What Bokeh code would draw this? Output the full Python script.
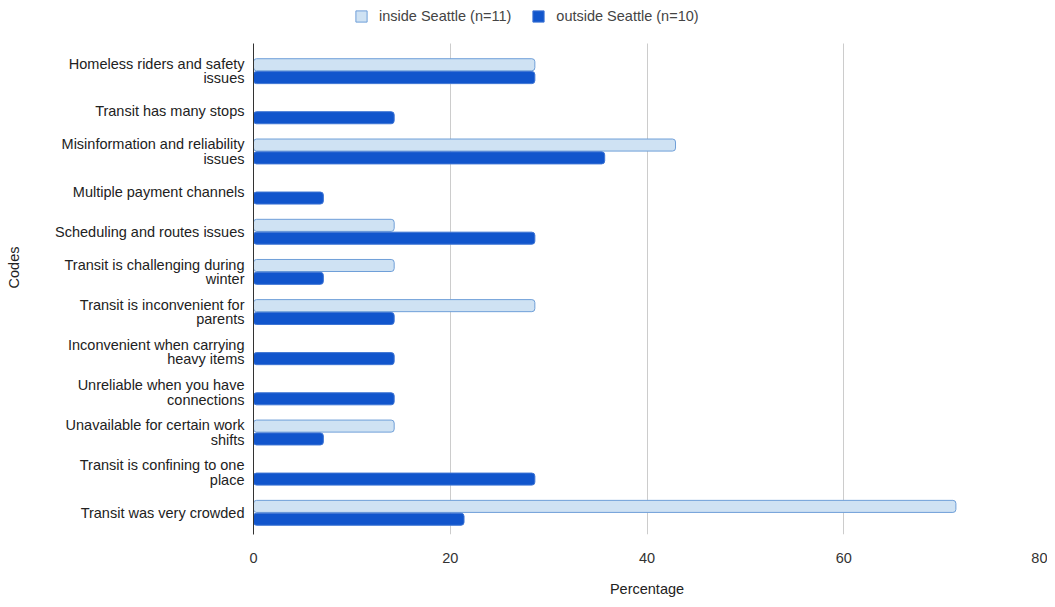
from bokeh.plotting import figure
from bokeh.models import ColumnDataSource, Range1d, Legend, LegendItem, FixedTicker
from bokeh.embed import file_html
from bokeh.resources import INLINE

categories = [
    "Homeless riders and safety\nissues",
    "Transit has many stops",
    "Misinformation and reliability\nissues",
    "Multiple payment channels",
    "Scheduling and routes issues",
    "Transit is challenging during\nwinter",
    "Transit is inconvenient for\nparents",
    "Inconvenient when carrying\nheavy items",
    "Unreliable when you have\nconnections",
    "Unavailable for certain work\nshifts",
    "Transit is confining to one\nplace",
    "Transit was very crowded",
]
inside_seattle = [28.6, 0, 42.9, 0, 14.3, 14.3, 28.6, 0, 0, 14.3, 0, 71.4]
outside_seattle = [28.6, 14.3, 35.7, 7.1, 28.6, 7.1, 14.3, 14.3, 14.3, 7.1, 28.6, 21.4]
x_ticks = [0, 20, 40, 60, 80]

FONT = "Liberation Sans"
FS = "14.5px"

n = len(categories)
ypos = [n - 1 - i for i in range(n)]          # first category on top
OFF = 0.16
src = ColumnDataSource(dict(
    y_in=[y + OFF for y in ypos], y_out=[y - OFF for y in ypos],
    inside=inside_seattle, outside=outside_seattle,
))

Y_LO, Y_HI = -0.54, n - 1 + 0.70

p = figure(
    width=1047, height=599,
    y_range=Range1d(Y_LO, n - 1 + 1.76),
    x_range=Range1d(0, 80),
    output_backend="svg", toolbar_location=None,
    min_border_left=253, min_border_right=7, min_border_top=0, min_border_bottom=61,
)
p.outline_line_color = None

r_in = p.hbar(y="y_in", right="inside", left=0, height=0.3,
              source=src, fill_color="#cfe2f3", line_color="#6f9fd8", line_width=1,
              border_radius=3)
r_out = p.hbar(y="y_out", right="outside", left=0, height=0.3,
               source=src, fill_color="#1155cc", line_color="#3d74d4", line_width=1,
               border_radius=3)

p.xaxis.ticker = FixedTicker(ticks=x_ticks)
p.xaxis.axis_line_color = None
p.xaxis.major_tick_line_color = None
p.xaxis.minor_tick_line_color = None
p.xaxis.major_label_text_font = FONT
p.xaxis.major_label_text_font_size = FS
p.xaxis.major_label_text_color = "#333333"
p.xaxis.major_label_standoff = 12
p.xaxis.axis_label = "Percentage"
p.xaxis.axis_label_text_font = FONT
p.xaxis.axis_label_text_font_size = FS
p.xaxis.axis_label_text_font_style = "normal"
p.xaxis.axis_label_text_color = "#222222"
p.xaxis.axis_label_standoff = 15

p.yaxis.ticker = FixedTicker(ticks=ypos)
p.yaxis.major_label_overrides = {y: c for y, c in zip(ypos, categories)}
p.yaxis.bounds = (Y_LO, Y_HI)
p.yaxis.axis_line_color = "#333333"
p.yaxis.axis_line_width = 1
p.yaxis.major_tick_line_color = None
p.yaxis.minor_tick_line_color = None
p.yaxis.major_label_text_font = FONT
p.yaxis.major_label_text_font_size = FS
p.yaxis.major_label_text_color = "#222222"
p.yaxis.major_label_text_line_height = 0.9
p.yaxis.major_label_standoff = 3
p.yaxis.axis_label = "Codes"
p.yaxis.axis_label_text_font = FONT
p.yaxis.axis_label_text_font_size = FS
p.yaxis.axis_label_text_font_style = "normal"
p.yaxis.axis_label_text_color = "#222222"
p.yaxis.axis_label_standoff = 30

p.ygrid.grid_line_color = None
p.xgrid.grid_line_color = "#cccccc"
p.xgrid.ticker = FixedTicker(ticks=x_ticks)
p.xgrid.cross_bounds = (Y_LO, Y_HI)

legend = Legend(items=[
    LegendItem(label="inside Seattle (n=11)", renderers=[r_in]),
    LegendItem(label="outside Seattle (n=10)", renderers=[r_out]),
], orientation="horizontal", location=(101, 510))
legend.label_text_font = FONT
legend.label_text_font_size = FS
legend.label_text_color = "#444444"
legend.label_standoff = 11
legend.glyph_width = 14
legend.glyph_height = 14
legend.spacing = 20
legend.padding = 2
legend.margin = 0
legend.border_line_color = None
legend.background_fill_alpha = 0
p.add_layout(legend, "center")

open("out.html", "w").write(file_html(p, INLINE))
